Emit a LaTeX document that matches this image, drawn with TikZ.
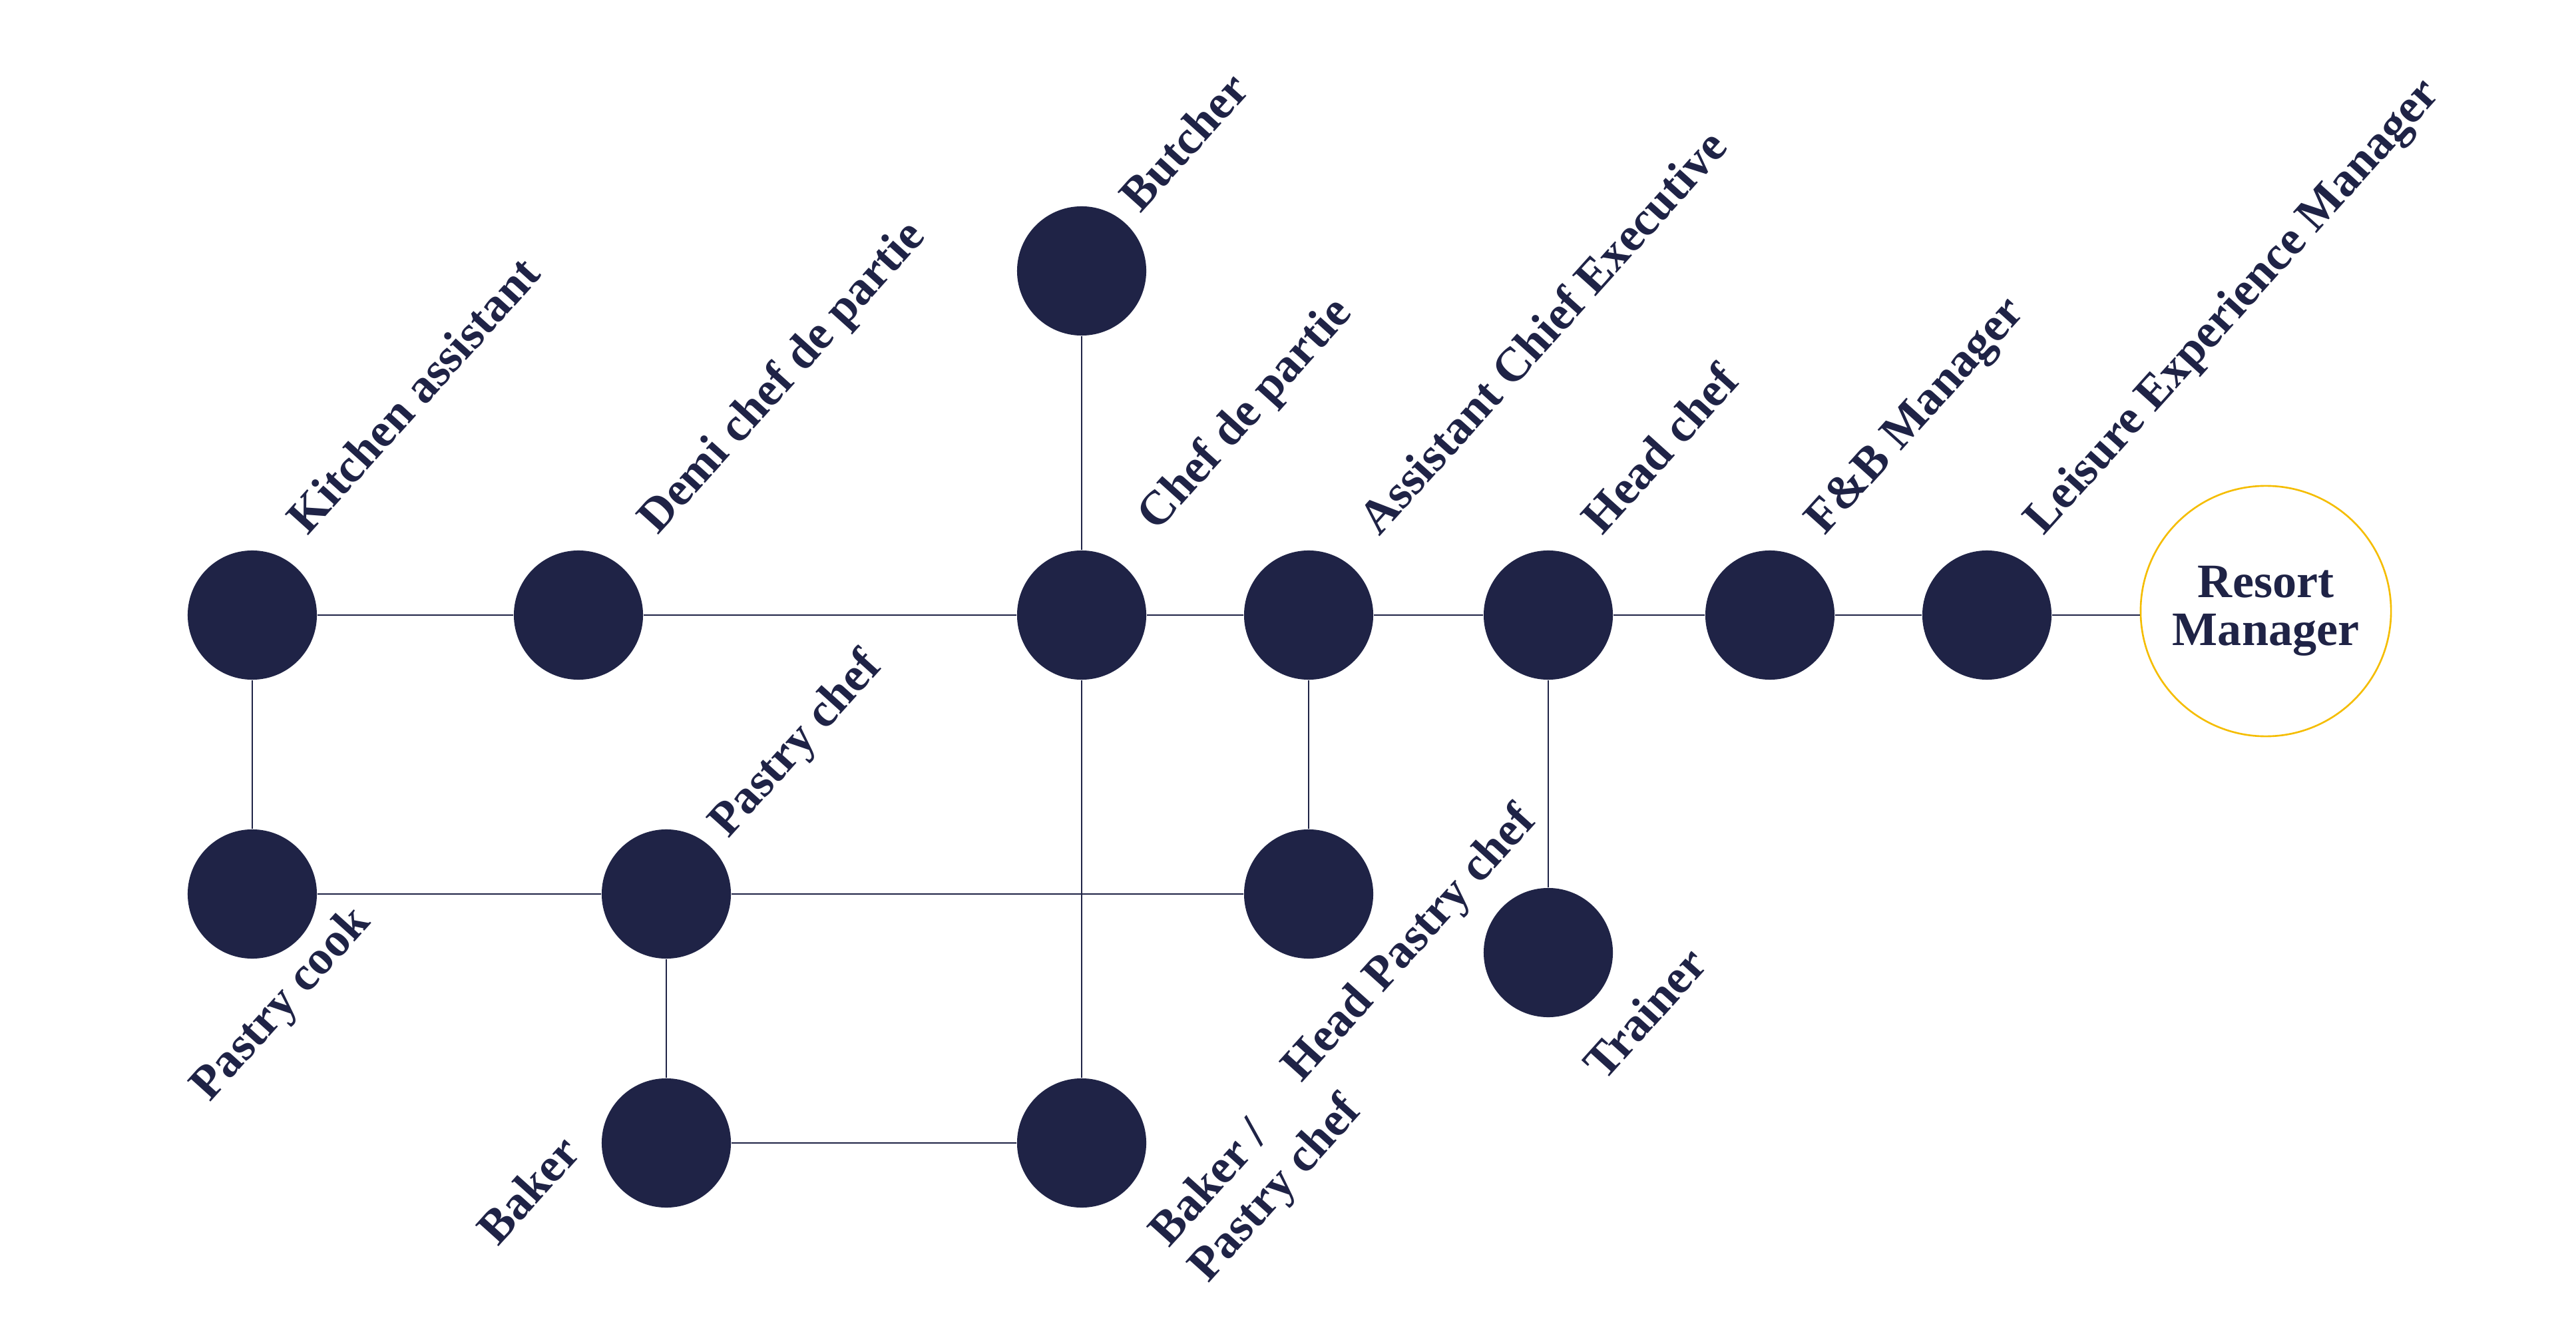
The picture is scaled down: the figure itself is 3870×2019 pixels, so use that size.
\documentclass[tikz,border=0pt]{standalone}
\usepackage{fontspec}
\setmainfont{Liberation Serif}
\definecolor{navy}{HTML}{1F2346}
\definecolor{gold}{HTML}{F5BD00}
\begin{document}
\begin{tikzpicture}[x=0.01cm,y=-0.01cm,
  dot/.style={circle,fill=navy,minimum size=1.94cm,inner sep=0pt},
  link/.style={draw=navy,line width=0.65pt},
  lab/.style={text=navy,font=\fontsize{20.5}{24}\selectfont\bfseries,rotate=48,anchor=base west,inner sep=0pt},
  goal/.style={circle,draw=gold,line width=0.75pt,minimum size=3.76cm,inner sep=0pt,fill=white,text=navy,align=center,font=\fontsize{20.5}{20.5}\selectfont\bfseries}
  ]
\fill[white] (0,0) rectangle (3870,2019);
\useasboundingbox (0,0) rectangle (3870,2019);
% circles
\node[dot] (ka)  at (379,924) {};
\node[dot] (dc)  at (869,924) {};
\node[dot] (cp)  at (1625,924) {};
\node[dot] (bu)  at (1625,407) {};
\node[dot] (ace) at (1966,924) {};
\node[dot] (hc)  at (2326,924) {};
\node[dot] (fb)  at (2659,924) {};
\node[dot] (lem) at (2985,924) {};
\node[goal] (rm) at (3404,918) {Resort\\Manager};
\node[dot] (pk)  at (379,1343) {};
\node[dot] (pc)  at (1001,1343) {};
\node[dot] (hpc) at (1966,1343) {};
\node[dot] (tr)  at (2326,1431) {};
\node[dot] (bk)  at (1001,1717) {};
\node[dot] (bpc) at (1625,1717) {};
% connectors
\draw[link] (ka) -- (dc) -- (cp) -- (ace) -- (hc) -- (fb) -- (lem) -- (lem -| rm.west);
\draw[link] (ka) -- (pk);
\draw[link] (pk) -- (pc) -- (hpc);
\draw[link] (pc) -- (bk) -- (bpc);
\draw[link] (bu) -- (cp) -- (bpc);
\draw[link] (ace) -- (hpc);
\draw[link] (hc) -- (tr);
% labels
\node[lab] (lka)  at (462,806)  {Kitchen assistant};
\node[lab] (ldc)  at (988,805)  {Demi chef de partie};
\node[lab] (lcp)  at (1738,800) {Chef de partie};
\node[lab] (lbu)  at (1713,322) {Butcher};
\node[lab] (lace) at (2072,807) {Assistant Chief Executive};
\node[lab] (lhc)  at (2407,806) {Head chef};
\node[lab] (lfb)  at (2741,806) {F\&B Manager};
\node[lab] (llem) at (3070,806) {Leisure Experience Manager};
\node[lab] (lpc)  at (1094,1261) {Pastry chef};
\node[lab] (lpk)  at (315,1657) {Pastry cook};
\node[lab] (lbk)  at (748,1874) {Baker};
\node[lab] (lbpc) at (1756,1876) {\vtop{\baselineskip=22.5pt\hbox{Baker /}\hbox{Pastry chef}}};
\node[lab] (lhpc) at (1955,1628) {Head Pastry chef};
\node[lab] (ltr)  at (2410,1626) {Trainer};
\end{tikzpicture}
\end{document}
